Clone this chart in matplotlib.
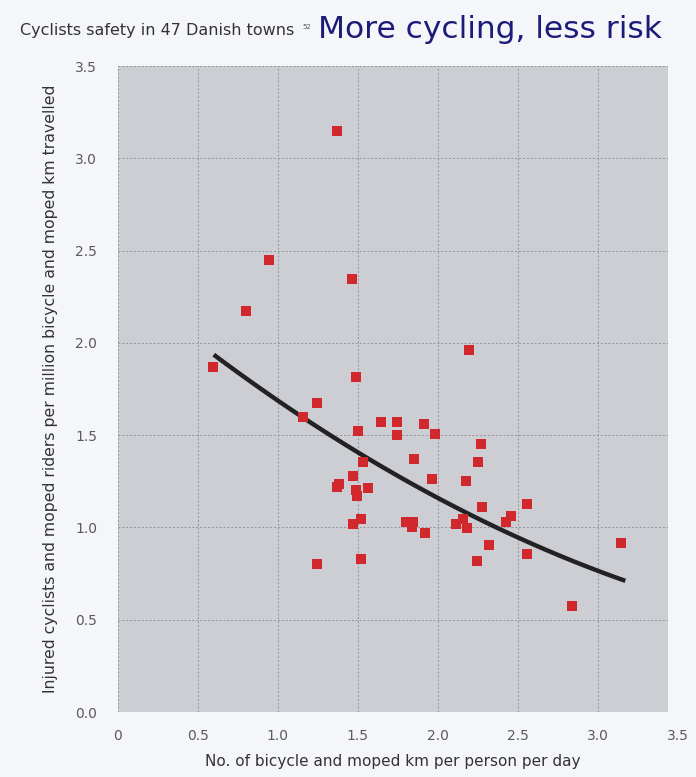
import numpy as np
import matplotlib
matplotlib.use("Agg")
import matplotlib.pyplot as plt
import matplotlib.transforms as mtransforms

# Scatter: 47 Danish towns (km per person per day, injured per million km)
km_per_day = [1.367, 0.944, 1.464, 0.800, 0.596, 2.196, 1.491, 1.247, 1.154, 1.647,
              1.746, 1.916, 1.502, 1.746, 1.981, 2.273, 1.850, 1.533, 2.254, 1.964,
              2.179, 1.471, 1.371, 1.381, 1.488, 1.561, 1.492, 2.558, 2.279, 2.461,
              1.517, 1.471, 1.800, 1.846, 1.838, 2.158, 2.425, 2.111, 2.183, 1.921,
              2.319, 2.558, 2.244, 1.517, 1.246, 3.144, 2.838]
injured = [3.150, 2.450, 2.344, 2.172, 1.867, 1.964, 1.816, 1.673, 1.601, 1.571,
           1.569, 1.561, 1.520, 1.499, 1.508, 1.452, 1.373, 1.355, 1.355, 1.264,
           1.249, 1.278, 1.221, 1.233, 1.201, 1.215, 1.170, 1.129, 1.111, 1.062,
           1.045, 1.019, 1.032, 1.027, 1.003, 1.045, 1.027, 1.016, 0.995, 0.969,
           0.907, 0.854, 0.819, 0.828, 0.804, 0.914, 0.576]

# Trend curve, points
trend_x = [0.61, 1.01, 1.14, 1.53, 1.89, 1.99, 2.49, 2.83, 3.16]
trend_y = [1.95, 1.655, 1.60, 1.377, 1.216, 1.188, 0.955, 0.82, 0.709]

x_ticks = [0, 0.5, 1.0, 1.5, 2.0, 2.5, 3.0]
x_tick_labels = ["0", "0.5", "1.0", "1.5", "2.0", "2.5", "3.0"]
y_ticks = [0, 0.5, 1.0, 1.5, 2.0, 2.5, 3.0, 3.5]

fig = plt.figure(figsize=(6.96, 7.77), dpi=100, facecolor="#f5f6f9")
ax = fig.add_axes([118 / 696, 1 - 712 / 777, 550 / 696, 646 / 777])
ax.set_facecolor("#cdced3")
for s in ax.spines.values():
    s.set_visible(False)

ax.set_xlim(0, 3.44)
ax.set_ylim(0, 3.48)
ax.set_xticks(x_ticks)
ax.set_xticklabels(x_tick_labels)
ax.set_yticks(y_ticks)
ax.set_yticklabels([f"{v:.1f}" for v in y_ticks])
ax.tick_params(length=0, labelsize=10, labelcolor="#5a5a5a")
ax.tick_params(axis="x", pad=12)
ax.tick_params(axis="y", pad=15)
ax.grid(True, color="#939397", linestyle=(0, (2, 2)), linewidth=0.7)
ax.set_axisbelow(True)

# the 3.5 label sits just past the gray area
offset = mtransforms.ScaledTranslation(0, -12 / 72, fig.dpi_scale_trans)
trans = mtransforms.blended_transform_factory(ax.transData, ax.transAxes) + offset
ax.text(3.5, 0, "3.5", transform=trans, ha="center", va="top", fontsize=10,
        color="#5a5a5a", clip_on=False)

# smooth trend through the read points
coef = np.polyfit(trend_x, trend_y, 2)
xs = np.linspace(min(trend_x), max(trend_x), 100)
ax.plot(xs, np.polyval(coef, xs), color="#222222", linewidth=3.2, zorder=3)

ax.scatter(km_per_day, injured, marker="s", s=55, color="#d0282c", linewidths=0, zorder=4)

ax.set_xlabel("No. of bicycle and moped km per person per day", fontsize=11,
              color="#333333", labelpad=8)
ax.set_ylabel("Injured cyclists and moped riders per million bicycle and moped km travelled",
              fontsize=11.3, color="#333333", labelpad=12)

fig.text(20 / 696, 1 - 30 / 777, "Cyclists safety in 47 Danish towns", fontsize=11.5,
         color="#333333", va="center", ha="left")
fig.text(302 / 696, 1 - 27 / 777, "52", fontsize=5, color="#555555", va="center", ha="left")
fig.text(318 / 696, 1 - 29 / 777, "More cycling, less risk", fontsize=22.5,
         color="#1c1c78", va="center", ha="left")

fig.savefig("out.png", dpi=100, facecolor=fig.get_facecolor())
